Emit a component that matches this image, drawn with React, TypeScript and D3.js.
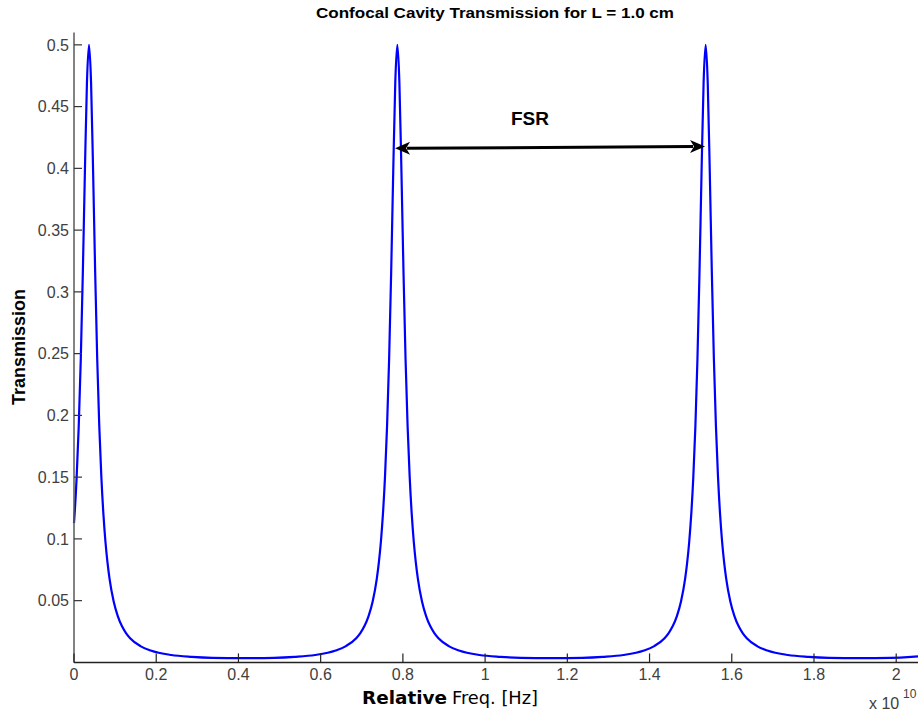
import React from "react";
import * as d3 from "d3";

// Relative frequency in units of 1e10 Hz
const freqX: number[] = [
  0, 0.0015, 0.0065, 0.0115, 0.0165, 0.0215, 0.0265, 0.0315, 0.0365,
  0.0415, 0.0465, 0.0515, 0.0565, 0.0615, 0.0665, 0.0715, 0.0765, 0.0815, 0.0865,
  0.0965, 0.1065, 0.1165, 0.1265, 0.1365, 0.1615, 0.1865, 0.2365, 0.2865, 0.3365, 0.4115,
  0.4865, 0.5365, 0.5865, 0.6365, 0.6615, 0.6865, 0.6965, 0.7065, 0.7165, 0.7265,
  0.7365, 0.7415, 0.7465, 0.7515, 0.7565, 0.7615, 0.7665, 0.7715, 0.7765, 0.7815, 0.7865,
  0.7915, 0.7965, 0.8015, 0.8065, 0.8115, 0.8165, 0.8215, 0.8265, 0.8315, 0.8365,
  0.8465, 0.8565, 0.8665, 0.8765, 0.8865, 0.9115, 0.9365, 0.9865, 1.0365, 1.0865, 1.1615,
  1.2365, 1.2865, 1.3365, 1.3865, 1.4115, 1.4365, 1.4465, 1.4565, 1.4665, 1.4765,
  1.4865, 1.4915, 1.4965, 1.5015, 1.5065, 1.5115, 1.5165, 1.5215, 1.5265, 1.5315, 1.5365,
  1.5415, 1.5465, 1.5515, 1.5565, 1.5615, 1.5665, 1.5715, 1.5765, 1.5815, 1.5865,
  1.5965, 1.6065, 1.6165, 1.6265, 1.6365, 1.6615, 1.6865, 1.7365, 1.7865, 1.8365, 1.9115,
  1.9865, 2.0365, 2.053,
];

const transY: number[] = [
  0.1128, 0.1202, 0.1504, 0.1911, 0.2455, 0.3158, 0.397, 0.4695, 0.5,
  0.4695, 0.397, 0.3158, 0.2455, 0.1911, 0.1504, 0.1202, 0.0977, 0.0807, 0.0676,
  0.0493, 0.0375, 0.0294, 0.02375, 0.0196, 0.0132, 0.0096, 0.006, 0.0045, 0.0037, 0.0034,
  0.0037, 0.0045, 0.006, 0.0096, 0.0132, 0.0196, 0.02375, 0.0294, 0.0375, 0.0493,
  0.0676, 0.0807, 0.0977, 0.1202, 0.1504, 0.1911, 0.2455, 0.3158, 0.397, 0.4695, 0.5,
  0.4695, 0.397, 0.3158, 0.2455, 0.1911, 0.1504, 0.1202, 0.0977, 0.0807, 0.0676,
  0.0493, 0.0375, 0.0294, 0.02375, 0.0196, 0.0132, 0.0096, 0.006, 0.0045, 0.0037, 0.0034,
  0.0037, 0.0045, 0.006, 0.0096, 0.0132, 0.0196, 0.02375, 0.0294, 0.0375, 0.0493,
  0.0676, 0.0807, 0.0977, 0.1202, 0.1504, 0.1911, 0.2455, 0.3158, 0.397, 0.4695, 0.5,
  0.4695, 0.397, 0.3158, 0.2455, 0.1911, 0.1504, 0.1202, 0.0977, 0.0807, 0.0676,
  0.0493, 0.0375, 0.0294, 0.02375, 0.0196, 0.0132, 0.0096, 0.006, 0.0045, 0.0037, 0.0034,
  0.0037, 0.0045, 0.0049,
];

const xTicks: number[] = [0, 0.2, 0.4, 0.6, 0.8, 1, 1.2, 1.4, 1.6, 1.8, 2];
const xTickLabels: string[] = ["0", "0.2", "0.4", "0.6", "0.8", "1", "1.2", "1.4", "1.6", "1.8", "2"];
const yTicks: number[] = [0.05, 0.1, 0.15, 0.2, 0.25, 0.3, 0.35, 0.4, 0.45, 0.5];
const yTickLabels: string[] = ["0.05", "0.1", "0.15", "0.2", "0.25", "0.3", "0.35", "0.4", "0.45", "0.5"];

// FSR arrow endpoints (data coords)
const fsrX: number[] = [0.781, 1.535];
const fsrY: number[] = [0.4163, 0.4176];

const W = 924;
const H = 715;
const left = 74;
const right = 918;
const top = 32.5;
const bottom = 662.4;

export default function App() {
  const x = d3.scaleLinear().domain([0, 2.053]).range([left, right]);
  const y = d3.scaleLinear().domain([0, 0.51]).range([bottom, top]);

  const pts = freqX.map((f, i) => [f, transY[i]] as [number, number]);
  const line = d3
    .line<[number, number]>()
    .x((d) => x(d[0]))
    .y((d) => y(d[1]))
    .curve(d3.curveMonotoneX);

  const ax1 = x(fsrX[0]);
  const ay1 = y(fsrY[0]);
  const ax2 = x(fsrX[1]);
  const ay2 = y(fsrY[1]);
  const headL = 15;
  const headW = 6.5;

  const tickColor = "#404040";
  const labelFont = "'Liberation Sans', Arial, sans-serif";

  return (
    <svg
      width={W}
      height={H}
      style={{ position: "absolute", left: 0, top: 0, background: "#fff" }}
    >
      <rect x={0} y={0} width={W} height={H} fill="#fff" />
      {/* title */}
      <text
        x={316}
        y={18}
        fontFamily={labelFont}
        fontWeight="bold"
        fontSize={14}
        textLength={358}
        lengthAdjust="spacingAndGlyphs"
        fill="#000"
      >
        Confocal Cavity Transmission for L = 1.0 cm
      </text>

      {/* data line */}
      <path d={line(pts) || ""} fill="none" stroke="#0000ff" strokeWidth={2.2} strokeLinejoin="round" />

      {/* axes */}
      <line x1={left} y1={top} x2={left} y2={bottom} stroke="#5a5a5a" strokeWidth={1.5} />
      <line x1={left} y1={bottom} x2={right} y2={bottom} stroke="#222" strokeWidth={1.5} />

      {yTicks.map((t, i) => (
        <g key={"y" + i}>
          <line x1={left} x2={left + 8} y1={y(t)} y2={y(t)} stroke="#333" strokeWidth={1.2} />
          <text
            x={left - 5}
            y={y(t)}
            dy="0.36em"
            textAnchor="end"
            fontFamily={labelFont}
            fontSize={16}
            fill={tickColor}
          >
            {yTickLabels[i]}
          </text>
        </g>
      ))}

      {xTicks.map((t, i) => (
        <g key={"x" + i}>
          <line x1={x(t)} x2={x(t)} y1={bottom} y2={bottom - 9} stroke="#222" strokeWidth={1.2} />
          <text
            x={x(t)}
            y={680}
            textAnchor="middle"
            fontFamily={labelFont}
            fontSize={16}
            fill={tickColor}
          >
            {xTickLabels[i]}
          </text>
        </g>
      ))}

      {/* exponent */}
      <text x={869} y={709} fontFamily={labelFont} fontSize={16} fill={tickColor}>
        x 10
      </text>
      <text x={903} y={698} fontFamily={labelFont} fontSize={12} fill={tickColor}>
        10
      </text>

      {/* axis labels */}
      <text
        transform={`translate(25, 347) rotate(-90)`}
        textAnchor="middle"
        fontFamily={labelFont}
        fontWeight="bold"
        fontSize={18}
        fill="#000"
      >
        Transmission
      </text>
      <text
        x={362}
        y={704}
        fontFamily="'DejaVu Sans', sans-serif"
        fontWeight="bold"
        fontSize={18}
        fill="#000"
        textLength={85}
        lengthAdjust="spacingAndGlyphs"
      >
        Relative
      </text>
      <text
        x={452}
        y={704}
        fontFamily="'DejaVu Sans', sans-serif"
        fontSize={18}
        fill="#000"
        textLength={86}
        lengthAdjust="spacingAndGlyphs"
      >
        Freq. [Hz]
      </text>

      {/* FSR annotation */}
      <line
        x1={ax1 + headL - 3}
        y1={ay1}
        x2={ax2 - headL + 3}
        y2={ay2}
        stroke="#000"
        strokeWidth={3}
      />
      <path
        d={`M${ax1},${ay1} L${ax1 + headL},${ay1 - headW} L${ax1 + headL - 4},${ay1} L${ax1 + headL},${ay1 + headW} Z`}
        fill="#000"
      />
      <path
        d={`M${ax2},${ay2} L${ax2 - headL},${ay2 - headW} L${ax2 - headL + 4},${ay2} L${ax2 - headL},${ay2 + headW} Z`}
        fill="#000"
      />
      <text
        x={530}
        y={125}
        textAnchor="middle"
        fontFamily={labelFont}
        fontWeight="bold"
        fontSize={19}
        fill="#000"
      >
        FSR
      </text>
    </svg>
  );
}
